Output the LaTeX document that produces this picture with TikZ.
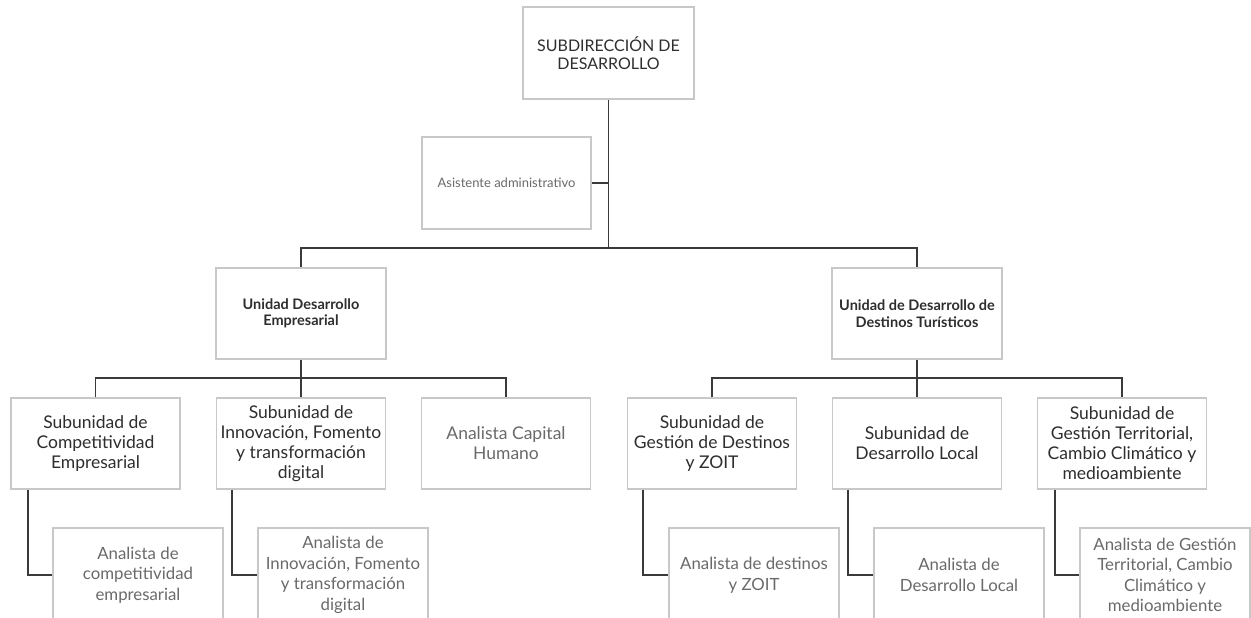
\documentclass[tikz,border=0pt]{standalone}
\usepackage{fontspec}
\setmainfont{Lato}
\definecolor{linec}{HTML}{3A3A3A}
\definecolor{boxc}{HTML}{C8C8C8}
\definecolor{darkt}{HTML}{2E2E2E}
\definecolor{lightt}{HTML}{6A6A6A}
\begin{document}
\begin{tikzpicture}[x=1pt,y=-1pt,
  box/.style={draw=boxc,line width=1.3pt,fill=white,align=center,inner sep=1pt},
  lvl1/.style={box,minimum width=171pt,minimum height=92pt,text=darkt,font=\fontsize{16}{18.5}\selectfont},
  unit/.style={box,minimum width=170pt,minimum height=91pt,text=darkt,font=\bfseries\fontsize{14.5}{16.5}\selectfont},
  sub/.style={box,minimum width=169pt,minimum height=91pt,text=darkt,font=\fontsize{17.5}{20}\selectfont},
  ana/.style={box,minimum width=170pt,minimum height=94pt,text=lightt,font=\fontsize{16.8}{20.5}\selectfont},
  conn/.style={draw=linec,line width=1.8pt}]
\useasboundingbox (0,0) rectangle (1251,618);
\clip (0,0) rectangle (1251,618);
% nodes
\node[lvl1] (top) at (608.5,53) {SUBDIRECCIÓN DE\\DESARROLLO};
\node[box,minimum width=169pt,minimum height=92pt,text=lightt,font=\fontsize{13}{15}\selectfont] (asis) at (506.5,183) {Asistente administrativo};
\node[unit] (ude) at (301,313.5) {Unidad Desarrollo\\Empresarial};
\node[unit] (udt) at (917,313.5) {Unidad de Desarrollo de\\Destinos Turísticos};
\node[sub] (sc) at (95.5,443.5) {Subunidad de\\Competitividad\\Empresarial};
\node[sub] (si) at (301,443.5) {Subunidad de\\Innovación, Fomento\\y transformación\\digital};
\node[sub,text=lightt] (ach) at (506,443.5) {Analista Capital\\Humano};
\node[sub] (sg) at (712,443.5) {Subunidad de\\Gestión de Destinos\\y ZOIT};
\node[sub] (sd) at (917,443.5) {Subunidad de\\Desarrollo Local};
\node[sub] (st) at (1122,443.5) {Subunidad de\\Gestión Territorial,\\Cambio Climático y\\medioambiente};
\node[ana] (ac) at (138,575) {Analista de\\competitividad\\empresarial};
\node[ana] (ai) at (343,575) {Analista de\\Innovación, Fomento\\y transformación\\digital};
\node[ana] (ad) at (754,575) {Analista de destinos\\y ZOIT};
\node[ana] (al) at (959,575) {Analista de\\Desarrollo Local};
\node[ana] (ag) at (1165,575) {Analista de Gestión\\Territorial, Cambio\\Climático y\\medioambiente};
% junctions
\coordinate (j1) at (608.5,248);
\coordinate (bus) at (0,378);
% connectors
\draw[conn] (top.south) -- (j1);
\draw[conn] (asis.east) -- (asis.east -| j1);
\draw[conn] (ude.north) -- (ude.north |- j1) -| (udt.north);
\draw[conn] (ude.south) -- (ude.south |- bus);
\draw[conn] (sc.north) -- (sc.north |- bus) -| (ach.north);
\draw[conn] (si.north) -- (si.north |- bus);
\draw[conn] (udt.south) -- (udt.south |- bus);
\draw[conn] (sg.north) -- (sg.north |- bus) -| (st.north);
\draw[conn] (sd.north) -- (sd.north |- bus);
\draw[conn] ([xshift=-67.5pt]sc.south) |- (ac.west);
\draw[conn] ([xshift=-69pt]si.south) |- (ai.west);
\draw[conn] ([xshift=-69pt]sg.south) |- (ad.west);
\draw[conn] ([xshift=-69pt]sd.south) |- (al.west);
\draw[conn] ([xshift=-67pt]st.south) |- (ag.west);
\end{tikzpicture}
\end{document}
